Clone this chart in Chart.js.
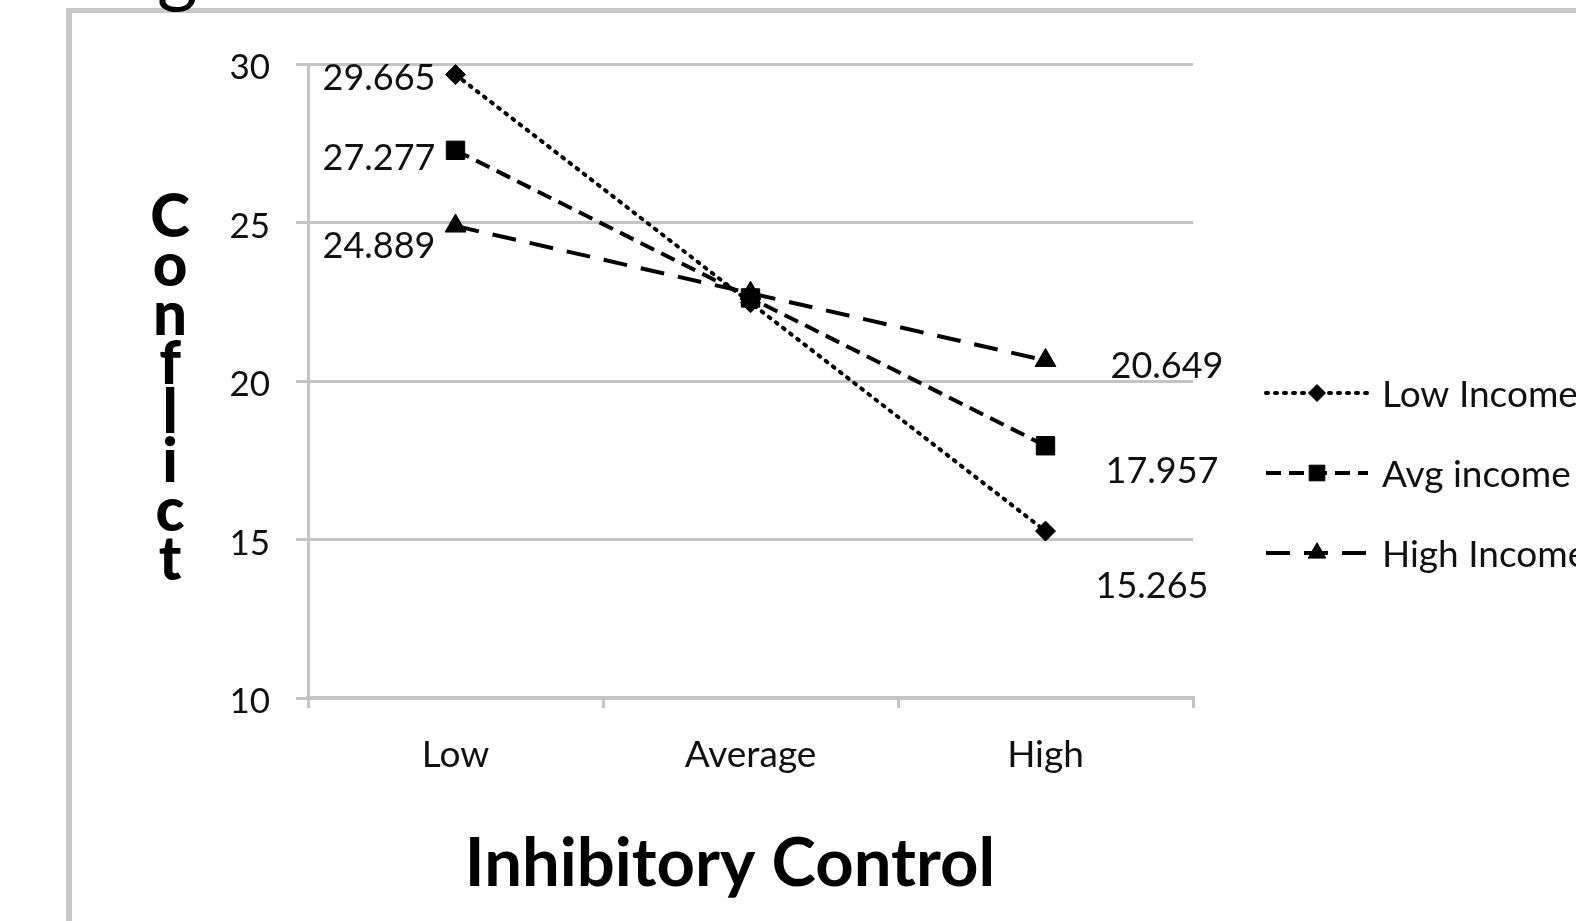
<!DOCTYPE html>
<html>
<head>
<meta charset="utf-8">
<script src="https://cdn.jsdelivr.net/npm/chart.js@4.4.1/dist/chart.umd.min.js"></script>
<style>
  body { margin: 0; background: #fff; }
  #wrap { width: 1576px; height: 921px; }
</style>
</head>
<body>
<div id="wrap"><canvas id="myChart" width="1576" height="921"></canvas></div>
<script>
// values
var categories = ['Low', 'Average', 'High'];
var lowIncome  = [29.665, 22.47, 15.265];
var avgIncome  = [27.277, 22.62, 17.957];
var highIncome = [24.889, 22.77, 20.649];
var seriesNames = ['Low Income', 'Avg income', 'High Income'];
var yTicks = [10, 15, 20, 25, 30];
var yTitle = 'Conflict';
var xTitle = 'Inhibitory Control';

// where the end labels sit next to their point (Low side / High side), per series
var lowLabelShift  = [[-20, 4], [-20, 8], [-20, 20]];
var highLabelShift = [[50, 55], [60, 26], [65, 6]];

var gridGray = '#c4c4c4';
var fontName = 'Lato';

var extras = {
  id: 'extras',
  afterDraw: function(chart) {
    var ctx = chart.ctx;
    var area = chart.chartArea;
    ctx.save();

    // frame of the pasted picture
    ctx.fillStyle = '#c8c8c8';
    ctx.fillRect(66, 8, 6, 921);
    ctx.fillRect(66, 8, 1576, 5);

    // cut-off glyph of the title above
    ctx.fillStyle = '#000';
    ctx.font = '78px ' + fontName;
    ctx.textAlign = 'left';
    ctx.textBaseline = 'alphabetic';
    ctx.fillText('g', 157, -3);

    // value labels at the end points
    ctx.font = '36px ' + fontName;
    ctx.fillStyle = '#111';
    ctx.textBaseline = 'middle';
    chart.data.datasets.forEach(function(ds, i) {
      var pts = chart.getDatasetMeta(i).data;
      var first = pts[0], last = pts[pts.length - 1];
      ctx.textAlign = 'right';
      ctx.fillText(ds.data[0].toFixed(3), first.x + lowLabelShift[i][0], first.y + lowLabelShift[i][1]);
      ctx.textAlign = 'left';
      ctx.fillText(ds.data[ds.data.length - 1].toFixed(3), last.x + highLabelShift[i][0], last.y + highLabelShift[i][1]);
    });

    // stacked y title
    ctx.font = '900 60px ' + fontName;
    ctx.fillStyle = '#000';
    ctx.textAlign = 'center';
    ctx.textBaseline = 'alphabetic';
    yTitle.split('').forEach(function(ch, k) {
      ctx.fillText(ch, 170, 237 + k * 49);
    });

    // x title
    ctx.font = 'bold 67px ' + fontName;
    ctx.fillText(xTitle, 730, 886);

    // legend
    chart.data.datasets.forEach(function(ds, i) {
      var y = 393 + i * 80;
      var x0 = area.right + 73, x1 = area.right + 175;
      ctx.save();
      ctx.strokeStyle = '#000';
      ctx.lineWidth = ds.borderWidth;
      ctx.lineCap = ds.borderCapStyle || 'butt';
      ctx.setLineDash(ds.borderDash);
      ctx.beginPath();
      ctx.moveTo(x0, y);
      ctx.lineTo(x1, y);
      ctx.stroke();
      ctx.restore();
      ctx.fillStyle = '#000';
      ctx.strokeStyle = '#000';
      ctx.lineWidth = 1;
      Chart.helpers.drawPoint(ctx, {
        pointStyle: ds.pointStyle,
        radius: ds.pointRadius * 0.85,
        rotation: 0,
        borderWidth: 1
      }, (x0 + x1) / 2, y);
      ctx.font = '37px ' + fontName;
      ctx.fillStyle = '#111';
      ctx.textAlign = 'left';
      ctx.textBaseline = 'middle';
      ctx.fillText(seriesNames[i], area.right + 189, y + 2);
    });

    ctx.restore();
  }
};

function series(name, values, dash, width, cap, style, r) {
  return {
    label: name,
    data: values,
    borderColor: '#000',
    backgroundColor: '#000',
    borderWidth: width,
    borderDash: dash,
    borderCapStyle: cap,
    pointStyle: style,
    pointRadius: r,
    pointHoverRadius: r,
    pointBackgroundColor: '#000',
    pointBorderColor: '#000',
    pointBorderWidth: 1,
    tension: 0,
    fill: false
  };
}

var ctx = document.getElementById('myChart');
var myChart = new Chart(ctx, {
  type: 'line',
  data: {
    labels: categories,
    datasets: [
      series(seriesNames[0], lowIncome, [2, 7], 4, 'round', 'rectRot', 10),
      series(seriesNames[1], avgIncome, [15, 8], 4, 'butt', 'rect', 13),
      series(seriesNames[2], highIncome, [24, 14], 4, 'butt', 'triangle', 12)
    ]
  },
  options: {
    responsive: false,
    animation: false,
    events: [],
    layout: { padding: { left: 0, right: 383, top: 64, bottom: 0 } },
    plugins: {
      legend: { display: false },
      tooltip: { enabled: false }
    },
    scales: {
      x: {
        offset: true,
        grid: {
          offset: true,
          drawOnChartArea: false,
          color: gridGray,
          lineWidth: 3,
          tickLength: 10
        },
        border: { color: gridGray, width: 4 },
        ticks: {
          color: '#111',
          padding: 25,
          font: { family: fontName, size: 37 }
        },
        afterFit: function(scale) { scale.height = 921 - 698; }
      },
      y: {
        min: yTicks[0],
        max: yTicks[yTicks.length - 1],
        ticks: {
          stepSize: yTicks[1] - yTicks[0],
          color: '#111',
          padding: 26,
          labelOffset: 4,
          font: { family: fontName, size: 35 }
        },
        grid: { color: gridGray, lineWidth: 3, tickLength: 12 },
        border: { color: gridGray, width: 3 },
        afterFit: function(scale) { scale.width = 308; }
      }
    }
  },
  plugins: [extras]
});
</script>
</body>
</html>
